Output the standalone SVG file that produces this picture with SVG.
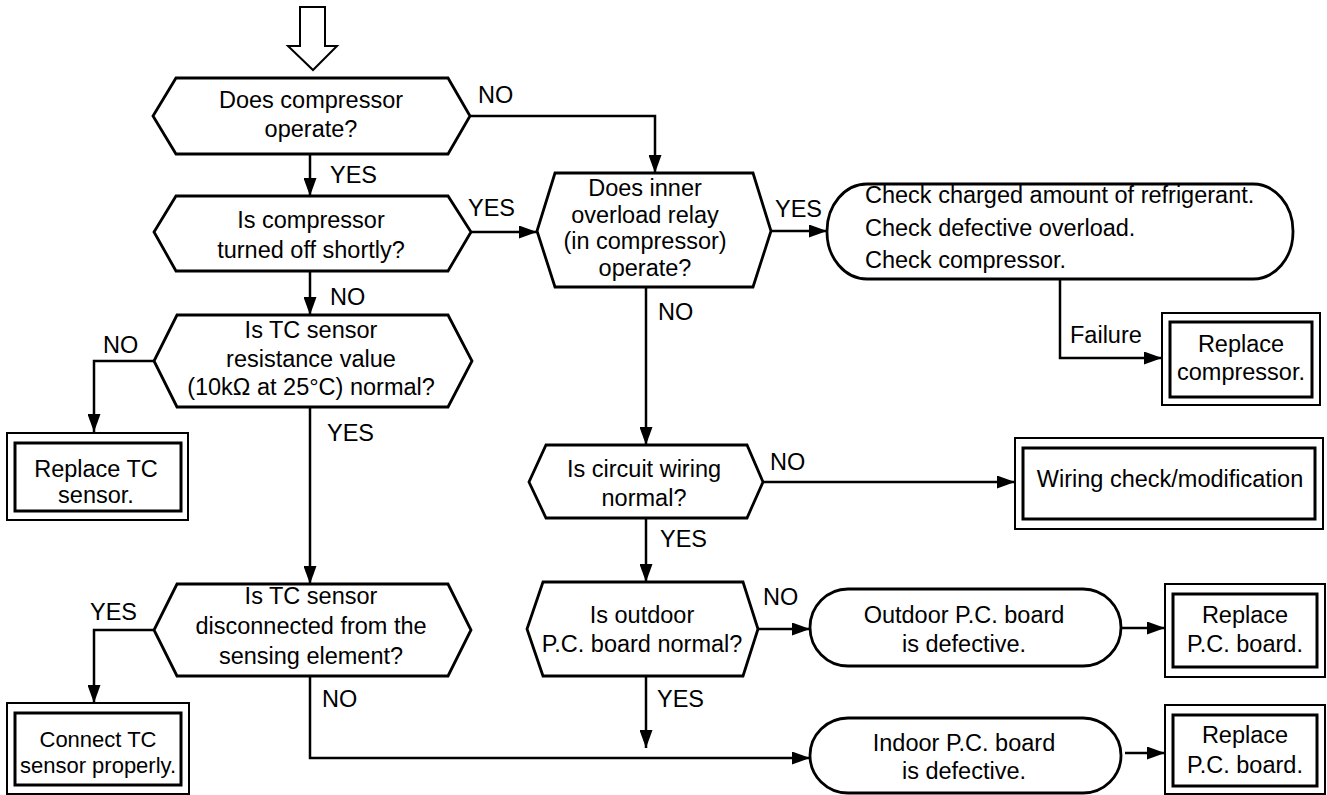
<svg xmlns="http://www.w3.org/2000/svg" width="1327" height="795" viewBox="0 0 1327 795">
<style>
text{font-family:"Liberation Sans",Arial,sans-serif;font-size:23.5px;fill:#000}
.c{text-anchor:middle}
.shape{fill:#fff;stroke:#000;stroke-width:2.8;stroke-linejoin:miter}
.outer{fill:#fff;stroke:#000;stroke-width:2}
.inner{fill:none;stroke:#000;stroke-width:3}
.ln{fill:none;stroke:#000;stroke-width:2.5}
.arr{marker-end:url(#ah)}
</style>
<defs>
<marker id="ah" markerUnits="userSpaceOnUse" markerWidth="19" markerHeight="13" refX="18" refY="6.5" orient="auto">
<path d="M0,0 L18,6.5 L0,13 z" fill="#000"/>
</marker>
</defs>
<rect width="1327" height="795" fill="#fff"/>

<g id="start">
<polygon points="300,7 325,7 325,46 337,46 313,70 288,46 300,46" fill="#fff" stroke="#000" stroke-width="2"/>
</g>

<g id="connectors">
<path class="ln arr" d="M310,154 V196"/>
<path class="ln arr" d="M470,116 H655 V173"/>
<path class="ln arr" d="M471,232 H537"/>
<path class="ln arr" d="M310,271 V315"/>
<path class="ln arr" d="M154,361 H94 V432"/>
<path class="ln arr" d="M310,407 V584"/>
<path class="ln arr" d="M154,630 H94 V703"/>
<path class="ln arr" d="M310,676 V758 H810"/>
<path class="ln arr" d="M771,231 H827"/>
<path class="ln arr" d="M1060,279 V358 H1162"/>
<path class="ln arr" d="M646,287 V445"/>
<path class="ln arr" d="M763,482 H1015"/>
<path class="ln arr" d="M646,518 V582"/>
<path class="ln arr" d="M758,629 H810"/>
<path class="ln arr" d="M646,676 V748"/>
<path class="ln arr" d="M1120,628 H1165"/>
<path class="ln arr" d="M1125,753 H1165"/>
<text x="478" y="103">NO</text>
<text x="330" y="183">YES</text>
<text x="468" y="216">YES</text>
<text x="330" y="305">NO</text>
<text x="103" y="353">NO</text>
<text x="327" y="441">YES</text>
<text x="90" y="620">YES</text>
<text x="322" y="707">NO</text>
<text x="775" y="217">YES</text>
<text x="658" y="320">NO</text>
<text x="1070" y="343">Failure</text>
<text x="770" y="470">NO</text>
<text x="660" y="547">YES</text>
<text x="763" y="605">NO</text>
<text x="657" y="707">YES</text>
</g>

<g id="q1">
<polygon class="shape" points="176,78 448,78 470,116 448,154 176,154 153,116"/>
<text class="c" x="311" y="108">Does compressor</text>
<text class="c" x="311" y="137">operate?</text>
</g>

<g id="q2">
<polygon class="shape" points="176,196 448,196 471,232 448,271 176,271 154,232"/>
<text class="c" x="311" y="228">Is compressor</text>
<text class="c" x="311" y="258">turned off shortly?</text>
</g>

<g id="q3">
<polygon class="shape" points="177,315 448,315 472,361 448,407 177,407 154,361"/>
<text class="c" x="311" y="338">Is TC sensor</text>
<text class="c" x="311" y="367">resistance value</text>
<text class="c" x="311" y="395">(10kΩ at 25°C) normal?</text>
</g>

<g id="replaceTC">
<rect class="outer" x="7" y="433" width="181" height="87"/>
<rect class="inner" x="15" y="443" width="166" height="68"/>
<text class="c" x="96" y="477">Replace TC</text>
<text class="c" x="96" y="503">sensor.</text>
</g>

<g id="q5">
<polygon class="shape" points="177,584 448,584 471,630 448,676 177,676 154,630"/>
<text class="c" x="311" y="604">Is TC sensor</text>
<text class="c" x="311" y="634">disconnected from the</text>
<text class="c" x="311" y="664">sensing element?</text>
</g>

<g id="connectTC">
<rect class="outer" x="7" y="703" width="182" height="91"/>
<rect class="inner" x="15" y="713" width="166" height="72"/>
<text class="c" x="98" y="747" style="font-size:22px">Connect TC</text>
<text class="c" x="98" y="773" style="font-size:22px">sensor properly.</text>
</g>

<g id="q4">
<polygon class="shape" points="555,173 753,173 771,231 753,287 555,287 537,231"/>
<text class="c" x="645" y="196">Does inner</text>
<text class="c" x="645" y="222.5">overload relay</text>
<text class="c" x="645" y="249">(in compressor)</text>
<text class="c" x="645" y="275.5">operate?</text>
</g>

<g id="checks">
<rect class="shape" x="827" y="184" width="466" height="95" rx="40" ry="47"/>
<text x="865" y="203">Check charged amount of refrigerant.</text>
<text x="865" y="236">Check defective overload.</text>
<text x="865" y="268">Check compressor.</text>
</g>

<g id="replaceComp">
<rect class="outer" x="1162" y="313" width="158" height="92"/>
<rect class="inner" x="1170" y="322" width="142" height="75"/>
<text class="c" x="1241" y="352">Replace</text>
<text class="c" x="1241" y="380">compressor.</text>
</g>

<g id="q6">
<polygon class="shape" points="546,445 747,445 763,482 747,518 546,518 529,482"/>
<text class="c" x="644" y="477">Is circuit wiring</text>
<text class="c" x="644" y="506">normal?</text>
</g>

<g id="wiring">
<rect class="outer" x="1015" y="438" width="308" height="91"/>
<rect class="inner" x="1023" y="448" width="292" height="71"/>
<text class="c" x="1170" y="487">Wiring check/modification</text>
</g>

<g id="q7">
<polygon class="shape" points="543,582 743,582 758,629 743,676 543,676 527,629"/>
<text class="c" x="642" y="623">Is outdoor</text>
<text class="c" x="642" y="652">P.C. board normal?</text>
</g>

<g id="outdoor">
<rect class="shape" x="810" y="589" width="311" height="77" rx="38" ry="38.5"/>
<text class="c" x="964" y="623">Outdoor P.C. board</text>
<text class="c" x="964" y="652">is defective.</text>
</g>

<g id="replacePC1">
<rect class="outer" x="1165" y="584" width="160" height="93"/>
<rect class="inner" x="1173" y="594" width="144" height="73"/>
<text class="c" x="1245" y="623">Replace</text>
<text class="c" x="1245" y="652">P.C. board.</text>
</g>

<g id="indoor">
<rect class="shape" x="810" y="718" width="311" height="75" rx="38" ry="37.5"/>
<text class="c" x="964" y="751">Indoor P.C. board</text>
<text class="c" x="964" y="779">is defective.</text>
</g>

<g id="replacePC2">
<rect class="outer" x="1165" y="705" width="160" height="89"/>
<rect class="inner" x="1173" y="715" width="144" height="71"/>
<text class="c" x="1245" y="743">Replace</text>
<text class="c" x="1245" y="773">P.C. board.</text>
</g>
</svg>
